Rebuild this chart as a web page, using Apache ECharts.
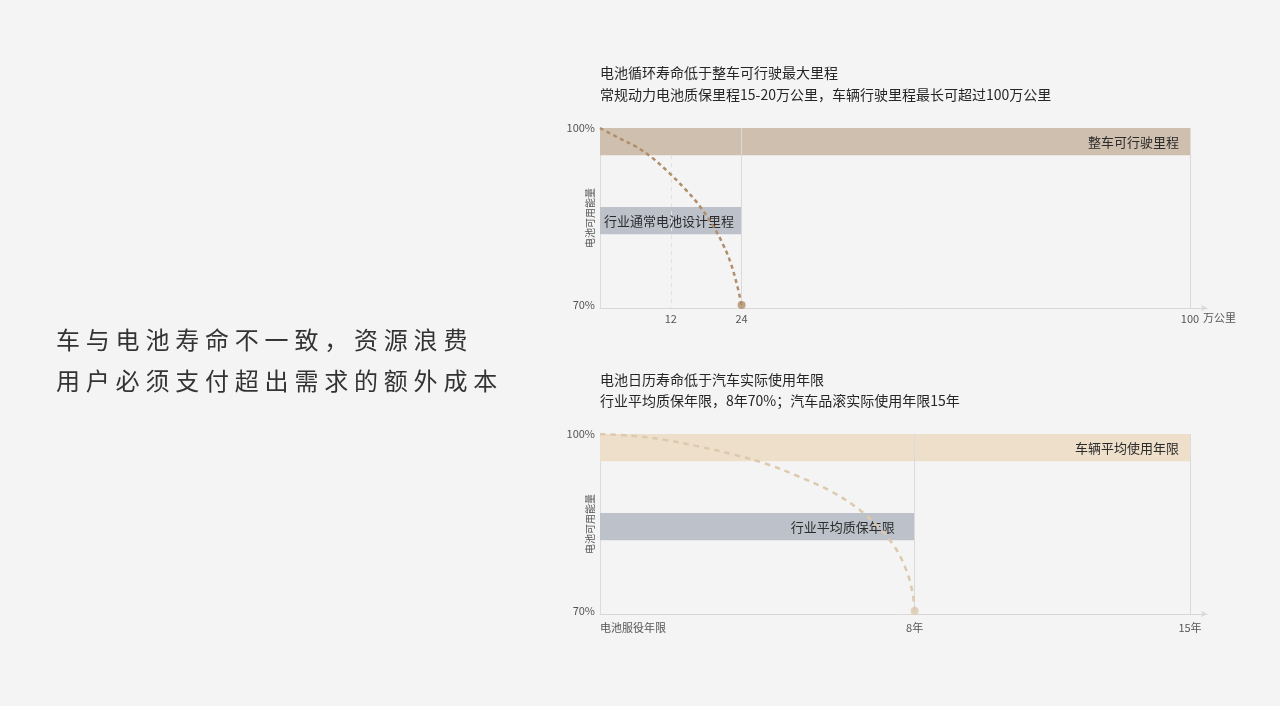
<!DOCTYPE html>
<html>
<head>
<meta charset="utf-8">
<script src="https://cdn.jsdelivr.net/npm/echarts@6/dist/echarts.min.js"></script>
<style>
	html, body { margin: 0; padding: 0; background: #f4f4f4; }
	#chart { width: 1280px; height: 706px; }
	#headline {
		position: absolute; left: 56px; top: 318px;
		font-family: "Noto Sans CJK SC", sans-serif;
		font-size: 24px; line-height: 41px; letter-spacing: 5.8px;
		color: #333;
	}
</style>
</head>
<body>
<div id="chart"></div>
<div id="headline">车与电池寿命不一致，资源浪费<br>用户必须支付超出需求的额外成本</div>
<script>
var FONT = '"Noto Sans CJK SC", "Noto Sans", sans-serif';

// top chart: cycle life vs mileage (万公里)
var cycleTitle = '电池循环寿命低于整车可行驶最大里程';
var cycleSubtitle = '常规动力电池质保里程15-20万公里，车辆行驶里程最长可超过100万公里';
var cycleCurve = [[0, 100], [3, 98.4], [6, 96.9], [8.8, 95], [11.6, 92.5], [14.4, 89.7], [16.8, 86.9], [19.1, 83.5], [20.8, 80.4], [22.2, 77], [23.3, 73.1], [24, 70]];
var cycleTicks = [12, 24, 100];
var cycleBandNames = ['整车可行驶里程', '行业通常电池设计里程'];
var cycleBands = [[0, 100, 95.4, 100], [0, 24, 82, 86.6]]; // x0, x1, y0, y1
var cycleGuides = [24, 100];
var cycleDashedGuide = [12, 95.4];

// bottom chart: calendar life vs years
var calTitle = '电池日历寿命低于汽车实际使用年限';
var calSubtitle = '行业平均质保年限，8年70%；汽车品滚实际使用年限15年';
var calCurve = [[0, 100], [0.8, 99.7], [1.65, 99], [2.5, 97.9], [3.35, 96.6], [4.2, 95], [5.05, 92.8], [5.9, 90.2], [6.55, 87.4], [7.07, 84.3], [7.49, 80.9], [7.79, 76.9], [7.95, 73], [8, 70]];
var calTicks = [0, 8, 15];
var calTickNames = ['电池服役年限', '8年', '15年'];
var calBandNames = ['车辆平均使用年限', '行业平均质保年限'];
var calBands = [[0, 15, 95.4, 100], [0, 8, 82, 86.6]];
var calGuides = [8, 15];

var yTicks = [70, 100];
var yName = '电池可用能量';
var yMin = 69.5;

var chart = echarts.init(document.getElementById('chart'));

function bandAreas(bands, names, styles) {
	return bands.map(function (b, i) {
		return [{
			xAxis: b[0], yAxis: b[2],
			itemStyle: { color: styles[i].color },
			label: {
				show: true, formatter: names[i],
				position: styles[i].position, distance: styles[i].distance,
				color: '#2b2b2b', fontSize: 13, fontFamily: FONT
			}
		}, { xAxis: b[1], yAxis: b[3] }];
	});
}

function guideLines(xs, top) {
	return xs.map(function (x) {
		return [{ coord: [x, top] }, { coord: [x, yMin] }];
	});
}

function xAxisOf(gridIndex, max, ticks, formatter, margin) {
	return {
		type: 'value', gridIndex: gridIndex, min: 0, max: max,
		splitLine: { show: false },
		axisTick: { show: false },
		axisLine: {
			lineStyle: { color: '#d8d8d8', width: 1 },
			symbol: ['none', 'arrow'], symbolSize: [5, 6]
		},
		axisLabel: {
			customValues: ticks, formatter: formatter,
			margin: margin, color: '#555', fontSize: 11, fontFamily: FONT,
			alignMinLabel: gridIndex === 1 ? 'left' : 'center'
		}
	};
}

function yAxisOf(gridIndex) {
	return {
		type: 'value', gridIndex: gridIndex, min: yMin, max: 100,
		splitLine: { show: false },
		axisTick: { show: false },
		axisLine: { show: true, lineStyle: { color: '#dcdcdc', width: 1 } },
		axisLabel: {
			customValues: yTicks, formatter: '{value}%',
			margin: 5, color: '#555', fontSize: 11, fontFamily: FONT
		},
		name: yName, nameLocation: 'middle', nameRotate: 90, nameGap: 5,
		nameMoveOverlap: false,
		nameTextStyle: { color: '#555', fontSize: 10, fontFamily: FONT }
	};
}

var titleStyle = { color: '#262626', fontSize: 14, fontWeight: 'normal', fontFamily: FONT };

var option = {
	backgroundColor: '#f4f4f4',
	animation: false,
	title: [
		{ text: cycleTitle, left: 600, top: 66, padding: 0, textStyle: titleStyle },
		{ text: cycleSubtitle, left: 600, top: 88, padding: 0, textStyle: titleStyle },
		{ text: calTitle, left: 600, top: 373, padding: 0, textStyle: titleStyle },
		{ text: calSubtitle, left: 600, top: 394, padding: 0, textStyle: titleStyle }
	],
	grid: [
		{ left: 600, top: 128, width: 607, height: 180 },
		{ left: 600, top: 434, width: 607, height: 180 }
	],
	xAxis: [
		(function () {
			var a = xAxisOf(0, 100 * 607 / 590, cycleTicks, '{value}', 5);
			a.name = '万公里';
			a.nameLocation = 'end';
			a.nameGap = -4;
			a.nameTextStyle = { color: '#555', fontSize: 11, fontFamily: FONT, verticalAlign: 'top', padding: [4, 0, 0, 0] };
			return a;
		})(),
		xAxisOf(1, 15 * 607 / 590, calTicks, function (v) {
			return calTickNames[calTicks.indexOf(v)];
		}, 8)
	],
	yAxis: [yAxisOf(0), yAxisOf(1)],
	series: [
		{
			name: 'cycle', type: 'line', xAxisIndex: 0, yAxisIndex: 0,
			data: cycleCurve, smooth: 0.35, symbol: 'none', z: 5,
			lineStyle: { color: '#b08e6b', width: 2.5, type: [4, 3.5] },
			markArea: {
				silent: true,
				data: bandAreas(cycleBands, cycleBandNames, [
					{ color: '#cfbfae', position: 'insideRight', distance: 11 },
					{ color: '#bdc1c9', position: 'insideLeft', distance: 4 }
				])
			},
			markLine: {
				silent: true, symbol: 'none', label: { show: false },
				lineStyle: { color: '#dadada', width: 1, type: 'solid' },
				data: guideLines(cycleGuides, 100).concat([[
					{ coord: [cycleDashedGuide[0], cycleDashedGuide[1]], lineStyle: { color: '#e2e2e2', type: [4, 4] } },
					{ coord: [cycleDashedGuide[0], yMin] }
				]])
			}
		},
		{
			type: 'scatter', xAxisIndex: 0, yAxisIndex: 0, z: 6,
			data: [cycleCurve[cycleCurve.length - 1]],
			symbolSize: 8, itemStyle: { color: '#b08e6b' }
		},
		{
			name: 'calendar', type: 'line', xAxisIndex: 1, yAxisIndex: 1,
			data: calCurve, smooth: 0.35, symbol: 'none', z: 5,
			lineStyle: { color: '#dcc9ae', width: 2.5, type: [5.5, 5] },
			markArea: {
				silent: true,
				data: bandAreas(calBands, calBandNames, [
					{ color: '#eedfcb', position: 'insideRight', distance: 11 },
					{ color: '#bdc1c9', position: 'insideRight', distance: 20 }
				])
			},
			markLine: {
				silent: true, symbol: 'none', label: { show: false },
				lineStyle: { color: '#dadada', width: 1, type: 'solid' },
				data: guideLines(calGuides, 100)
			}
		},
		{
			type: 'scatter', xAxisIndex: 1, yAxisIndex: 1, z: 6,
			data: [calCurve[calCurve.length - 1]],
			symbolSize: 8, itemStyle: { color: '#dcc9ae' }
		}
	]
};

chart.setOption(option);
</script>
</body>
</html>
